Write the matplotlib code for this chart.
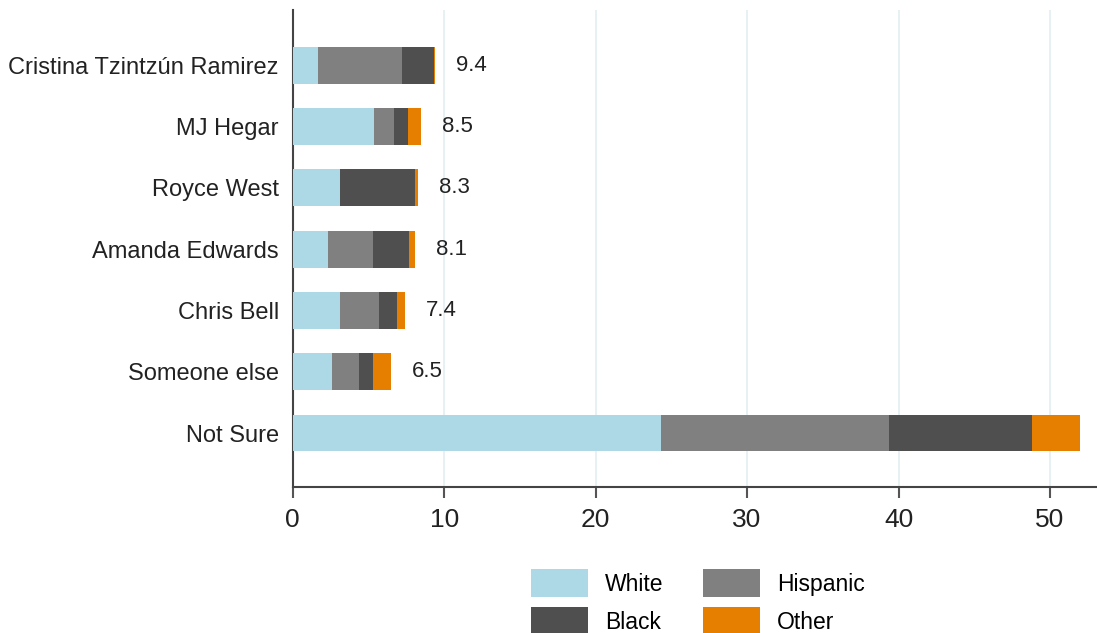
import matplotlib
matplotlib.use("Agg")
import matplotlib.pyplot as plt
from matplotlib.patches import Patch
import numpy as np

plt.rcParams['font.family'] = ['Liberation Sans', 'DejaVu Sans']

candidates = ["Cristina Tzintzún Ramirez", "MJ Hegar", "Royce West",
              "Amanda Edwards", "Chris Bell", "Someone else", "Not Sure"]
white = [1.7, 5.4, 3.1, 2.3, 3.1, 2.6, 24.3]
hispanic = [5.5, 1.3, 0.0, 3.0, 2.6, 1.8, 15.1]
black = [2.1, 0.9, 5.0, 2.4, 1.2, 0.9, 9.4]
other = [0.1, 0.9, 0.2, 0.4, 0.5, 1.2, 3.2]
totals = [9.4, 8.5, 8.3, 8.1, 7.4, 6.5, None]

series_names = ["White", "Hispanic", "Black", "Other"]
series_vals = [white, hispanic, black, other]
colors = ["#add8e6", "#808080", "#4f4f4f", "#e67e00"]

fig = plt.figure(figsize=(10.97, 6.33), dpi=100)
ax = fig.add_axes([0.2668, 0.2306, 0.7332, 0.7536])

y = np.arange(len(candidates))
left = np.zeros(len(candidates))
for name, vals, c in zip(series_names, series_vals, colors):
    ax.barh(y, vals, left=left, height=0.6, color=c, label=name, zorder=3)
    left += np.array(vals)

for yi, tot, end in zip(y, totals, left):
    if tot is not None:
        ax.annotate(f"{tot}", xy=(end, yi), xytext=(15, 0), textcoords="offset points",
                    va="center", ha="left", fontsize=16, color="#222222")

ax.set_xlim(0, 53.1)
ax.set_ylim(6.88, -0.9)
ax.set_yticks(y)
ax.set_yticklabels(candidates, fontsize=17, color="#222222")
ax.set_xticks([0, 10, 20, 30, 40, 50])
ax.tick_params(axis='x', labelsize=19, length=8, width=1.5, color="#555555",
               labelcolor="#222222", direction="out", pad=7)
ax.tick_params(axis='y', length=0, pad=10)
ax.grid(axis='x', color="#e3eef0", linewidth=1.2, zorder=0)
for s in ["top", "right"]:
    ax.spines[s].set_visible(False)
for s in ["left", "bottom"]:
    ax.spines[s].set_color("#444444")
    ax.spines[s].set_linewidth(1.5)

order = [0, 2, 1, 3]
handles = [Patch(facecolor=colors[i], label=series_names[i]) for i in order]
leg = fig.legend(handles=handles, loc="upper center",
                 bbox_to_anchor=(0.636, 1 - 560 / 633),
                 bbox_transform=fig.transFigure, ncol=2, frameon=False, fontsize=16.5,
                 handlelength=2.5, handleheight=1.5, handletextpad=0.75,
                 columnspacing=1.7, labelspacing=0.45, borderaxespad=0)

fig.savefig("out.png", dpi=100)
